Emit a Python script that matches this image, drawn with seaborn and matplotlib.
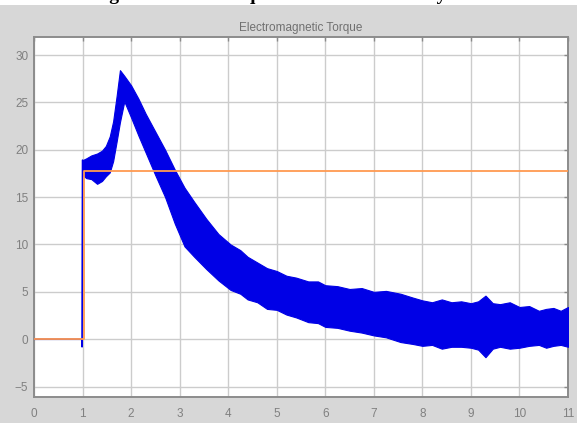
import matplotlib
matplotlib.use('Agg')
import matplotlib.pyplot as plt
import seaborn as sns
import pandas as pd
from matplotlib.patches import Rectangle

# envelope of the blue torque band
t_band = [1.00, 1.08, 1.18, 1.30, 1.40, 1.48, 1.56, 1.63, 1.70, 1.77,
          1.86, 2.00, 2.15, 2.30, 2.50, 2.70, 2.90, 3.10, 3.30, 3.55,
          3.80, 4.05, 4.25, 4.40, 4.60, 4.80, 5.00, 5.20, 5.40, 5.65,
          5.85, 6.00, 6.25, 6.50, 6.75, 7.00, 7.25, 7.55, 7.80, 8.00,
          8.20, 8.40, 8.60, 8.80, 9.00, 9.15, 9.30, 9.45, 9.60, 9.80,
          10.0, 10.2, 10.4, 10.55, 10.7, 10.85, 11.0]
upper = [18.9, 19.1, 19.4, 19.6, 19.9, 20.4, 21.4, 23.0, 25.6, 28.4,
         27.8, 26.8, 25.4, 23.8, 21.9, 20.0, 17.9, 16.0, 14.5, 12.7,
         11.1, 10.0, 9.4, 8.7, 8.1, 7.5, 7.2, 6.7, 6.5, 6.1,
         6.1, 5.7, 5.6, 5.3, 5.4, 5.0, 5.1, 4.8, 4.4, 4.1,
         3.9, 4.2, 3.9, 4.0, 3.8, 4.0, 4.6, 3.8, 3.7, 3.9,
         3.4, 3.5, 3.0, 3.2, 3.3, 3.0, 3.4]
lower = [17.3, 17.0, 16.9, 16.4, 16.7, 17.2, 17.6, 18.8, 20.8, 22.9,
         25.1, 23.4, 21.5, 19.7, 17.3, 15.0, 12.2, 9.8, 8.7, 7.4,
         6.2, 5.2, 4.8, 4.2, 3.9, 3.2, 3.1, 2.6, 2.3, 1.8,
         1.7, 1.3, 1.2, 0.9, 0.7, 0.4, 0.2, -0.3, -0.5, -0.7,
         -0.6, -1.0, -0.8, -0.8, -0.9, -1.1, -1.9, -1.0, -0.8, -1.0,
         -0.9, -0.7, -0.6, -0.9, -0.7, -0.6, -0.8]

# blue trace before the band (zero, then the switch-on spike)
t_start = [0.0, 0.99, 0.99, 1.0]
v_start = [0.0, 0.0, -0.8, 18.9]

# orange reference torque
t_ref = [0.0, 1.03, 1.03, 11.0]
v_ref = [0.0, 0.0, 17.8, 17.8]

x_ticks = list(range(0, 12))
y_ticks = [-5, 0, 5, 10, 15, 20, 25, 30]

sns.set_style('whitegrid')
plt.rcParams['font.family'] = ['Liberation Sans', 'DejaVu Sans']

fig = plt.figure(figsize=(5.77, 4.23), dpi=100, facecolor='#d7d7d7')
# white strip with the cut-off caption of the page at the very top
fig.patches.append(Rectangle((0, 1 - 5 / 423), 1, 5 / 423, transform=fig.transFigure,
                             facecolor='white', edgecolor='none', zorder=0))
fig.text(0.160, 1 + 0.5 / 423, 'Fig. 10. Motor Torque Curve for the Study',
         family='Liberation Serif', fontweight='bold', fontsize=14,
         va='baseline', ha='left', color='black')

ax = fig.add_axes([34 / 577, 1 - 397 / 423, (568 - 34) / 577, (397 - 37) / 423])
ax.set_facecolor('white')

blue = '#0000e6'
orange = '#ff9a50'

ax.fill_between(t_band, lower, upper, color=blue, edgecolor=blue, linewidth=0.8, zorder=3)
sns.lineplot(x=t_start, y=v_start, ax=ax, color=blue, lw=1.2, sort=False,
             estimator=None, zorder=3)
sns.lineplot(x=t_ref, y=v_ref, ax=ax, color=orange, lw=1.3, sort=False,
             estimator=None, zorder=4)

ax.set_xlim(0, 11)
ax.set_ylim(-6.1, 31.9)
ax.set_xticks(x_ticks)
ax.set_yticks(y_ticks)
ax.grid(True, color='#cccccc', lw=1.0)
ax.tick_params(axis='both', direction='in', length=3, colors='#8a8a8a',
               labelcolor='#808080', labelsize=8.5, width=1)
ax.tick_params(axis='x', pad=8)
ax.tick_params(axis='y', pad=4)
ax.tick_params(right=True, top=True, labelright=False, labeltop=False)
for s in ax.spines.values():
    s.set_color('#8c8c8c')
    s.set_linewidth(1.4)
    s.set_visible(True)
ax.set_xlabel('')
ax.set_ylabel('')
ax.set_title('Electromagnetic Torque', fontsize=8.5, color='#707070', pad=4)

fig.savefig('out.png', dpi=100, facecolor=fig.get_facecolor())
